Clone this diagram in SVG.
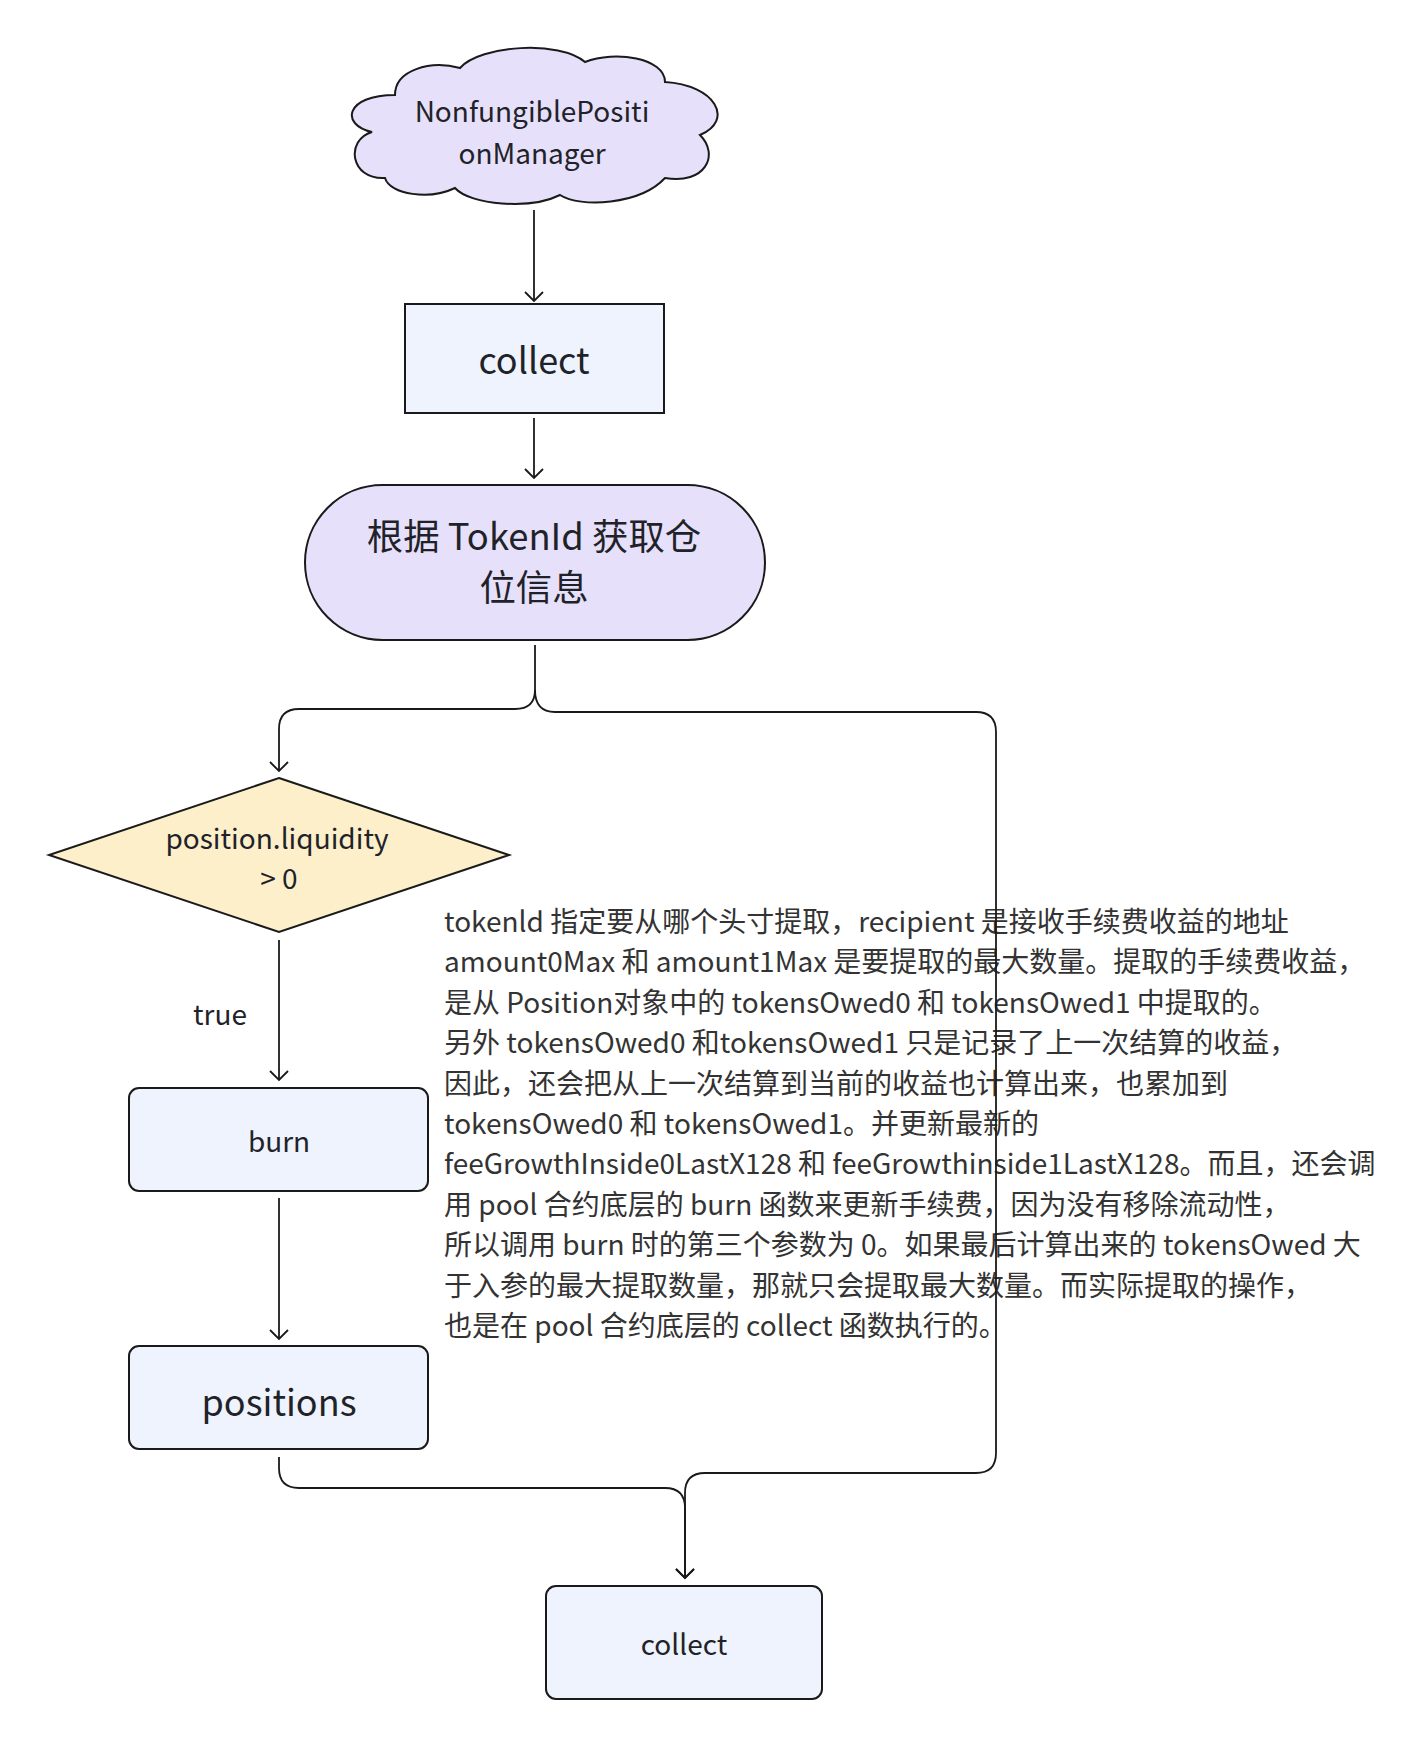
<svg xmlns="http://www.w3.org/2000/svg" width="1426" height="1750" viewBox="0 0 1426 1750">
<style>
text{font-family:"Noto Sans CJK SC","Noto Sans",sans-serif;fill:#1f2329}
.c{text-anchor:middle}
.shape{stroke:#1a1a1a;stroke-width:2}
.rectb{fill:#eef3fd}
.purple{fill:#e6e0fa}
.dia{fill:#fcefc9}
.conn path{fill:none;stroke:#1a1a1a;stroke-width:1.8}
.desc text{fill:#333;font-size:28px}
</style>
<defs>
<marker id="arr" markerUnits="userSpaceOnUse" markerWidth="24" markerHeight="24" viewBox="-12 -12 24 24" refX="0" refY="0" orient="auto">
<path d="M-9,-9 L0,0 L-9,9" fill="none" stroke="#1a1a1a" stroke-width="1.8"/>
</marker>
</defs>
<rect width="1426" height="1750" fill="#ffffff"/>

<g id="cloud">
<path class="shape purple" d="M 385 178 C 350 180, 345 140, 372 132 C 340 125, 345 95, 395 95 C 395 70, 430 60, 460 68 C 480 45, 560 40, 585 62 C 615 50, 665 58, 665 82 C 715 85, 735 120, 700 135 C 720 155, 705 185, 665 178 C 640 205, 580 208, 560 195 C 530 210, 470 205, 455 188 C 430 200, 390 195, 385 178 Z"/>
<text class="c" x="532" y="122" font-size="28">NonfungiblePositi</text>
<text class="c" x="532" y="164" font-size="28">onManager</text>
</g>

<g id="collect1">
<rect class="shape rectb" x="405" y="304" width="259" height="109"/>
<text class="c" x="534" y="374" font-size="36">collect</text>
</g>

<g id="getpos">
<rect class="shape purple" x="305" y="485" width="460" height="155" rx="77.5"/>
<text class="c" x="534" y="550" font-size="36.4">根据 TokenId 获取仓</text>
<text class="c" x="534" y="601" font-size="36.4">位信息</text>
</g>

<g id="cond">
<polygon class="shape dia" points="279,778 509,855 279,932 49,855"/>
<text class="c" x="277" y="849" font-size="28">position.liquidity</text>
<text class="c" x="279" y="889" font-size="28">&gt; 0</text>
</g>

<g id="desc" class="desc">
<text x="444" y="932">tokenld 指定要从哪个头寸提取，recipient 是接收手续费收益的地址</text>
<text x="444" y="972.4">amount0Max 和 amount1Max 是要提取的最大数量。提取的手续费收益，</text>
<text x="444" y="1012.8">是从 Position对象中的 tokensOwed0 和 tokensOwed1 中提取的。</text>
<text x="444" y="1053.2">另外 tokensOwed0 和tokensOwed1 只是记录了上一次结算的收益，</text>
<text x="444" y="1093.6">因此，还会把从上一次结算到当前的收益也计算出来，也累加到</text>
<text x="444" y="1134">tokensOwed0 和 tokensOwed1。并更新最新的</text>
<text x="444" y="1174.4">feeGrowthInside0LastX128 和 feeGrowthinside1LastX128。而且，还会调</text>
<text x="444" y="1214.8">用 pool 合约底层的 burn 函数来更新手续费，因为没有移除流动性，</text>
<text x="444" y="1255.2">所以调用 burn 时的第三个参数为 0。如果最后计算出来的 tokensOwed 大</text>
<text x="444" y="1295.6">于入参的最大提取数量，那就只会提取最大数量。而实际提取的操作，</text>
<text x="444" y="1336">也是在 pool 合约底层的 collect 函数执行的。</text>
</g>

<g id="connectors" class="conn">
<path d="M 534 210 L 534 301" marker-end="url(#arr)"/>
<path d="M 534 418 L 534 478" marker-end="url(#arr)"/>
<path d="M 535 645 L 535 690 Q 535 709 515 709 L 299 709 Q 279 709 279 729 L 279 771" marker-end="url(#arr)"/>
<path d="M 535 690 Q 535 712 555 712 L 976 712 Q 996 712 996 732 L 996 1453 Q 996 1473 976 1473 L 705 1473 Q 685 1473 685 1493 L 685 1578" marker-end="url(#arr)"/>
<path d="M 279 940 L 279 1080" marker-end="url(#arr)"/>
<path d="M 279 1198 L 279 1339" marker-end="url(#arr)"/>
<path d="M 279 1457 L 279 1468 Q 279 1488 299 1488 L 665 1488 Q 685 1488 685 1508 L 685 1578" marker-end="url(#arr)"/>
<text x="220" y="1025" font-size="28" class="c">true</text>
</g>

<g id="burn">
<rect class="shape rectb" x="129" y="1088" width="299" height="103" rx="10"/>
<text class="c" x="279" y="1152" font-size="28">burn</text>
</g>

<g id="positions">
<rect class="shape rectb" x="129" y="1346" width="299" height="103" rx="10"/>
<text class="c" x="279" y="1416" font-size="36">positions</text>
</g>

<g id="collect2">
<rect class="shape rectb" x="546" y="1586" width="276" height="113" rx="10"/>
<text class="c" x="684" y="1655" font-size="28">collect</text>
</g>
</svg>
